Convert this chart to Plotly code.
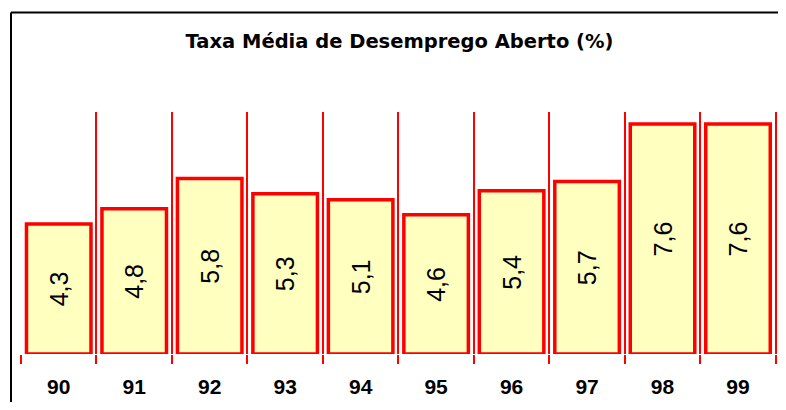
import plotly.graph_objects as go

# Taxa média de desemprego aberto, 1990-1999
anos = ['90', '91', '92', '93', '94', '95', '96', '97', '98', '99']
taxas = [4.3, 4.8, 5.8, 5.3, 5.1, 4.6, 5.4, 5.7, 7.6, 7.6]

posicoes = list(range(len(anos)))

fig = go.Figure()

fig.add_trace(go.Bar(x=posicoes, y=taxas,
                     width=0.855,
                     marker=dict(color='#ffffc0', line=dict(color='#ff0000', width=3.5)),
                     texttemplate='%{y:.1f}',
                     textposition='inside',
                     insidetextanchor='middle',
                     textangle=-90,
                     textfont=dict(family='Liberation Sans', size=25, color='black'),
                     hoverinfo='x+y'))

# moldura (so os lados esquerdo e superior aparecem)
fig.add_shape(type='line', xref='paper', yref='paper',
              x0=-0.0132, x1=-0.0132, y0=-0.3, y1=1.411,
              line=dict(color='black', width=2), layer='below')
fig.add_shape(type='line', xref='paper', yref='paper',
              x0=-0.0132, x1=1.2, y0=1.411, y1=1.411,
              line=dict(color='black', width=2), layer='below')

fig.update_layout(title=dict(text='<b>Taxa Média de Desemprego Aberto (%)</b>',
                             x=0.5, xref='paper', xanchor='center',
                             y=0.916, yanchor='middle',
                             font=dict(family='DejaVu Sans', size=19.5, color='black')),
                  separators=',.',
                  width=770, height=394,
                  margin=dict(l=13, r=0, t=104, b=48),
                  paper_bgcolor='white', plot_bgcolor='white',
                  showlegend=False)

fig.update_xaxes(range=[-0.5, len(anos) - 0.47],
                 tickvals=posicoes, ticktext=anos,
                 ticks='', showgrid=False, zeroline=False, showline=False,
                 ticklabelstandoff=18,
                 tickfont=dict(family='Liberation Sans', size=21, color='black', weight='bold'),
                 minor=dict(tick0=-0.5, dtick=1, ticks='outside', ticklen=9,
                            tickcolor='#ff0000', tickwidth=1.5,
                            showgrid=True, gridcolor='#ff0000', gridwidth=1.5))
fig.update_yaxes(range=[0, 8], visible=False, showgrid=False, zeroline=False)

fig.write_html('out.html')
